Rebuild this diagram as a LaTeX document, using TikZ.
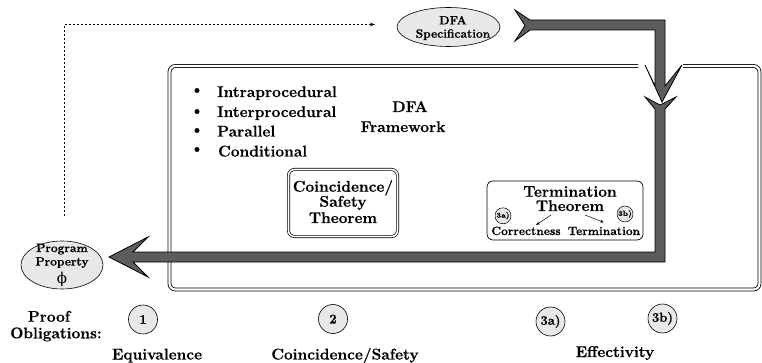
\documentclass[tikz,border=0pt]{standalone}
\usepackage{fontspec}
\setmainfont{Latin Modern Roman}[BoldFeatures={FakeBold=0.6}]
\newfontfamily\djs{DejaVu Serif}
\usetikzlibrary{shapes.geometric,arrows.meta}
\definecolor{lgray}{gray}{0.91}
\definecolor{dgray}{gray}{0.36}
\begin{document}
\begin{tikzpicture}[x=1pt,y=-1pt,
  big/.style={font=\fontsize{15.5}{16}\selectfont\bfseries, inner sep=0pt},
  mid/.style={font=\fontsize{12}{13.3}\selectfont\bfseries, inner sep=0pt},
  sml/.style={font=\fontsize{12}{13}\selectfont\bfseries, inner sep=0pt},
  bubble/.style={draw, ellipse, fill=lgray, line width=0.6pt, inner sep=0pt},
  numc/.style={draw, circle, fill=lgray, line width=0.6pt, minimum size=29pt, inner sep=0pt, font=\fontsize{13}{13}\selectfont\bfseries},
  smallc/.style={draw, circle, fill=lgray, line width=0.5pt, minimum size=16pt, inner sep=0pt, font=\fontsize{7.5}{8}\selectfont\bfseries},
  dframe/.style={double, double distance=2.2pt, line width=0.8pt, rounded corners=6pt},
  bigarrow/.style={fill=dgray, draw=black, line width=0.8pt, line join=miter},
  thinarrow/.style={line width=0.5pt, -{Stealth[length=4pt,width=3pt]}},
]
\useasboundingbox (0,0) rectangle (762,363);

% outer DFA framework frame (gap at top for the arrow)
\draw[dframe] (683,66) -- (759.5,66) -- (759.5,289.5) -- (169.5,289.5) -- (169.5,66) -- (638,66);

% dotted connector
\coordinate (dstart) at (64,216);
\coordinate (dend) at (375,24.5);
\draw[dash pattern=on 2pt off 2pt, line width=0.6pt, -{Stealth[length=5pt,width=3.5pt]}] (dstart) |- (dend);

% ellipses
\node[bubble, minimum width=103pt, minimum height=39pt] (spec) at (448.5,27) {};
\node[mid, align=center] (spectxt) at (453,28) {DFA\\Specification};

\node[bubble, minimum width=82pt, minimum height=48pt] (prop) at (62,265) {};
\node[sml, anchor=base] (pt1) at (62,252) {Program};
\node[sml, anchor=base] (pt2) at (62,265.5) {Property};
\node[inner sep=0pt] (phi) at (62,279) {\fontsize{15}{15}\djs ϕ};

% thick arrows
\path[bigarrow] (660,105) -- (645,97) -- (655,109) -- (655,252) -- (133,252) -- (148,237) -- (109,257) -- (148,277) -- (133,262) -- (665,262) -- (665,109) -- (676,97) -- cycle;
\path[bigarrow] (525,25.5) -- (515,10) -- (530,20) -- (665,20) -- (665,86) -- (682,65) -- (662,102) -- (645,65) -- (655,86) -- (655,30) -- (530,30) -- (515,41) -- cycle;

% bullet list
\fill (197,90.5) circle (2.5pt);
\fill (197,111.5) circle (2.5pt);
\fill (197,130.5) circle (2.5pt);
\fill (197,149.5) circle (2.5pt);
\node[big, anchor=base west] (i1) at (217,97) {Intraprocedural};
\node[big, anchor=base west] (i2) at (217,117) {Interprocedural};
\node[big, anchor=base west] (i3) at (217,136.5) {Parallel};
\node[big, anchor=base west] (i4) at (218,156.5) {Conditional};

\node[big, anchor=base] (fw1) at (410,112) {DFA};
\node[big, anchor=base] (fw2) at (403,132) {Framework};

% Coincidence / Safety theorem box
\node[draw, double, double distance=1.6pt, line width=0.7pt, rounded corners=6pt, minimum width=109pt, minimum height=67pt, inner sep=0pt] (coin) at (343,203) {};
\node[big, anchor=base] (co1) at (343,191.7) {Coincidence/};
\node[big, anchor=base] (co2) at (343,206.7) {Safety};
\node[big, anchor=base] (co3) at (343,223) {Theorem};

% Termination theorem box
\node[draw, rounded corners=6pt, line width=0.7pt, minimum width=156pt, minimum height=59pt, inner sep=0pt] (term) at (565,210.5) {};
\node[big, anchor=base] (te1) at (570,196.7) {Termination};
\node[big, anchor=base] (te2) at (570,211) {Theorem};
\node[sml, anchor=base] (corr) at (526,235) {Correctness};
\node[sml, anchor=base] (termi) at (604,235) {Termination};
\node[smallc] (s3a) at (503,215.8) {3a)};
\node[smallc] (s3b) at (625,214) {3b)};
\coordinate (al1) at (551,215);
\coordinate (al2) at (536,225);
\coordinate (ar1) at (585,215);
\coordinate (ar2) at (604,222.5);
\draw[thinarrow] (al1) -- (al2);
\draw[thinarrow] (ar1) -- (ar2);

% proof obligations
\node[big, anchor=base] (po1) at (49,321.7) {Proof};
\node[big, anchor=base] (po2) at (56,338.3) {Obligations:};
\node[numc] (c1) at (143,319.5) {1};
\node[numc] (c2) at (333,319) {2};
\node[numc] (c3a) at (550.5,321.5) {3a)};
\node[numc] (c3b) at (662.5,318.5) {3b)};
\node[big, anchor=base] (l1) at (157,359.5) {Equivalence};
\node[big, anchor=base] (l2) at (345,359.5) {Coincidence/Safety};
\node[big, anchor=base] (l3) at (615,357) {Effectivity};
\end{tikzpicture}
\end{document}
